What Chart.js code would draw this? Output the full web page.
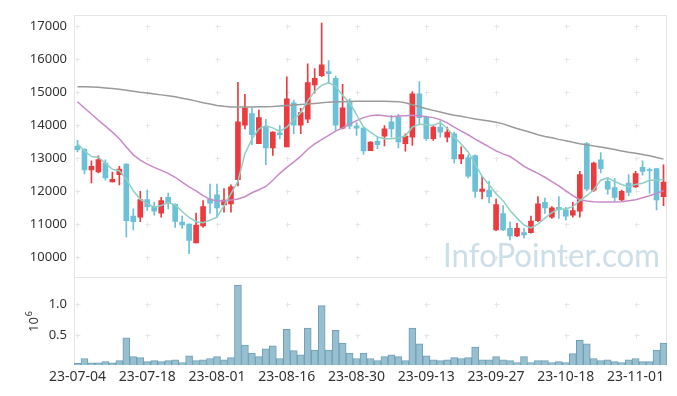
<!DOCTYPE html>
<html>
<head>
<meta charset="utf-8">
<script src="https://cdn.jsdelivr.net/npm/chart.js@4"></script>
<style>
  html, body { margin: 0; padding: 0; background: #fff; }
  #wrap { position: relative; width: 677px; height: 396px; }
</style>
</head>
<body>
<div id="wrap"><canvas id="chart" width="677" height="396"></canvas></div>
<script>
// trading days (23-07-04 .. 23-11-07)
const dates = [
  "23-07-04","23-07-05","23-07-06","23-07-07","23-07-10","23-07-11","23-07-12","23-07-13","23-07-14","23-07-17",
  "23-07-18","23-07-19","23-07-20","23-07-21","23-07-24","23-07-25","23-07-26","23-07-27","23-07-28","23-07-31",
  "23-08-01","23-08-02","23-08-03","23-08-04","23-08-07","23-08-08","23-08-09","23-08-10","23-08-11","23-08-14",
  "23-08-16","23-08-17","23-08-18","23-08-21","23-08-22","23-08-23","23-08-24","23-08-25","23-08-28","23-08-29",
  "23-08-30","23-08-31","23-09-01","23-09-04","23-09-05","23-09-06","23-09-07","23-09-08","23-09-11","23-09-12",
  "23-09-13","23-09-14","23-09-15","23-09-18","23-09-19","23-09-20","23-09-21","23-09-22","23-09-25","23-09-26",
  "23-09-27","23-10-04","23-10-05","23-10-06","23-10-10","23-10-11","23-10-12","23-10-13","23-10-16","23-10-17",
  "23-10-18","23-10-19","23-10-20","23-10-23","23-10-24","23-10-25","23-10-26","23-10-27","23-10-30","23-10-31",
  "23-11-01","23-11-02","23-11-03","23-11-06","23-11-07"
];

const open = [
  13370,13270,12640,12580,12850,12280,12500,12820,11240,11210,
  11740,11530,11330,11810,11600,11060,11000,10430,10940,11760,
  11890,11580,11610,12350,14000,14350,13440,13940,13310,13770,
  13340,14680,14000,14180,15220,15500,15630,15420,13910,14730,
  13970,13910,13230,13510,13670,14100,14250,13440,13640,14950,
  14250,13590,13940,13640,13740,12980,13020,13080,11990,12030,
  10820,11320,10870,10640,10740,10740,11100,11660,11210,11510,
  11430,11270,11390,13440,12030,12950,12300,12110,11730,12240,
  12130,12720,12650,12680,11830
];
const high = [
  13540,13290,12920,13070,12950,12580,12750,12830,11460,11990,
  12030,11660,11810,11940,11610,11240,11010,11330,11710,12210,
  12210,12080,12190,15300,14940,14530,14460,14180,13800,13990,
  15470,14760,14510,15860,15720,17100,15960,15490,15240,14800,
  14080,13940,13500,13640,13990,14300,14330,13740,15020,15320,
  14280,14000,14130,13940,13790,13340,13100,13100,12450,12300,
  11760,11560,11070,11020,10870,11240,11830,11790,11530,11830,
  11510,11660,12600,13470,12880,13170,12420,12380,12030,12500,
  12600,12920,12700,12680,12800
];
const low = [
  13190,12520,12250,12550,12330,12280,12190,10610,10820,11070,
  11410,11270,11210,11460,10900,10870,10100,10430,10900,11320,
  11210,11360,11360,12160,13890,13410,13440,12800,13080,13590,
  13340,13740,13740,14080,14970,15470,15270,13840,13890,13890,
  13690,13110,13230,13290,13370,13640,13310,13210,13390,14030,
  13540,13540,13640,13490,12850,12830,12400,11810,11760,11640,
  10800,10800,10520,10620,10570,10720,11070,11320,11170,11170,
  11120,11210,11210,12010,11990,12550,11910,11710,11710,11860,
  12110,12480,11930,11430,11560
];
const close = [
  13260,12640,12750,12960,12400,12360,12670,11100,11070,11740,
  11530,11390,11710,11630,11080,10970,10500,10970,11530,11630,
  11490,11730,12130,14100,14530,13710,14230,13310,13790,13710,
  14800,14000,14380,15290,15420,15830,15560,14000,14530,13970,
  13910,13220,13490,13410,13890,13890,13490,13670,14950,14230,
  13590,13940,13790,13790,12980,13110,12450,11990,12060,11830,
  11590,10820,10640,10870,10670,11090,11610,11490,11490,11440,
  11240,11410,12500,12060,12850,12680,12060,11810,11990,11960,
  12530,12600,12620,11730,12270
];

// moving averages
const ma5 = [
  13440,13220,13050,13020,12850,12660,12620,12360,12010,11750,
  11620,11510,11560,11650,11580,11380,11200,11070,11040,11120,
  11210,11560,11920,12300,13130,13580,13890,13990,13920,13810,
  13940,14170,14380,14740,15030,15210,15290,15180,14910,14680,
  14320,13940,13790,13640,13590,13590,13620,13670,13940,14030,
  14010,13990,14080,13910,13640,13430,13190,12810,12450,12190,
  11920,11710,11410,11180,10970,10880,11000,11180,11350,11460,
  11460,11530,11710,11860,12040,12330,12400,12290,12200,12130,
  12200,12240,12330,12330,12360
];
const ma20 = [
  14710,14520,14340,14150,13970,13790,13590,13340,13100,12940,
  12820,12720,12630,12540,12420,12270,12130,12010,11860,11750,
  11700,11700,11730,11760,11830,11950,12040,12140,12330,12540,
  12720,12880,13060,13270,13430,13560,13690,13820,13920,14030,
  14140,14230,14290,14310,14290,14260,14280,14290,14300,14290,
  14260,14230,14170,14070,13940,13820,13710,13580,13460,13340,
  13220,13130,13050,12910,12750,12640,12540,12420,12290,12160,
  12010,11860,11740,11700,11680,11670,11670,11670,11680,11710,
  11740,11800,11860,11930,12010
];
const ma60 = [
  15170,15165,15160,15150,15130,15110,15090,15060,15030,15000,
  14975,14950,14920,14890,14860,14820,14780,14730,14680,14640,
  14600,14575,14555,14550,14550,14555,14558,14562,14567,14580,
  14597,14610,14625,14640,14660,14680,14700,14710,14715,14720,
  14725,14727,14727,14727,14725,14720,14715,14680,14620,14560,
  14500,14450,14400,14350,14300,14270,14230,14190,14160,14130,
  14090,14040,13970,13900,13840,13780,13710,13660,13620,13570,
  13530,13480,13440,13410,13370,13340,13300,13260,13220,13180,
  13150,13110,13070,13020,12970
];

const volume = [
  30000,110000,40000,40000,60000,40000,75000,450000,140000,125000,
  60000,75000,60000,75000,90000,45000,155000,75000,90000,110000,
  140000,90000,125000,1320000,330000,200000,140000,270000,320000,110000,
  590000,240000,170000,610000,250000,980000,250000,575000,365000,200000,
  110000,200000,110000,75000,140000,170000,140000,75000,610000,350000,
  155000,90000,75000,90000,125000,110000,125000,300000,90000,90000,
  140000,90000,75000,45000,140000,45000,75000,75000,45000,60000,
  45000,190000,410000,350000,110000,75000,90000,60000,45000,90000,
  110000,60000,60000,250000,365000
];

const priceTicks = [10000, 11000, 12000, 13000, 14000, 15000, 16000, 17000];
const volumeTicks = [500000, 1000000];

const UP = "#ec3b3f";
const DOWN = "#6cc0d7";
const candleColor = (ctx) => close[ctx.dataIndex] >= open[ctx.dataIndex] ? UP : DOWN;

const panels = {
  id: "panels",
  beforeDatasetsDraw(chart) {
    const { ctx, scales } = chart;
    const x = scales.x, y = scales.y, yv = scales.yVol;
    ctx.save();

    // watermark
    ctx.font = "33px Lato";
    ctx.fillStyle = "rgba(170,200,216,0.6)";
    ctx.textBaseline = "alphabetic";
    const text = "InfoPointer.com";
    const w = ctx.measureText(text).width;
    ctx.translate(443, 267);
    ctx.scale(217 / w, 1);
    ctx.fillText(text, 0, 0);
    ctx.setTransform(1, 0, 0, 1, 0, 0);

    // frames
    ctx.strokeStyle = "#e4e4e4";
    ctx.lineWidth = 1;
    ctx.strokeRect(Math.round(x.left) + 0.5, Math.round(y.top) + 0.5,
      Math.round(x.width) - 1, Math.round(y.height));
    ctx.strokeRect(Math.round(x.left) + 0.5, Math.round(yv.top) + 0.5,
      Math.round(x.width) - 1, Math.round(yv.height) - 1);

    // small crosses at grid intersections
    ctx.strokeStyle = "#e6e6e6";
    const xs = dates.map((d, i) => i).filter((i) => i % 10 === 0).map((i) => x.getPixelForValue(i));
    const ys = priceTicks.map((v) => y.getPixelForValue(v))
      .concat(volumeTicks.map((v) => yv.getPixelForValue(v)));
    ctx.beginPath();
    xs.forEach((px) => {
      ys.forEach((py) => {
        const a = Math.round(px) + 0.5, b = Math.round(py) + 0.5;
        ctx.moveTo(a - 2, b); ctx.lineTo(a + 3, b);
        ctx.moveTo(a, b - 2); ctx.lineTo(a, b + 3);
      });
    });
    ctx.stroke();
    ctx.restore();
  },
  afterDraw(chart) {
    const { ctx } = chart;
    ctx.save();
    ctx.fillStyle = "#333";
    ctx.translate(38, 332);
    ctx.rotate(-Math.PI / 2);
    ctx.font = "13px 'Noto Sans'";
    ctx.textBaseline = "alphabetic";
    ctx.fillText("10", 0, 0);
    const w = ctx.measureText("10").width;
    ctx.font = "9px 'Noto Sans'";
    ctx.fillText("6", w + 1, -6);
    ctx.restore();
  }
};

new Chart(document.getElementById("chart"), {
  data: {
    labels: dates,
    datasets: [
      { type: "line", label: "MA5", data: ma5, borderColor: "#8fd0c6", borderWidth: 1.5,
        pointRadius: 0, yAxisID: "y", order: 0 },
      { type: "line", label: "MA20", data: ma20, borderColor: "#c88ac6", borderWidth: 1.5,
        pointRadius: 0, yAxisID: "y", order: 0 },
      { type: "line", label: "MA60", data: ma60, borderColor: "#9a9a9a", borderWidth: 1.5,
        pointRadius: 0, yAxisID: "y", order: 0 },
      { type: "bar", label: "body", data: open.map((o, i) => [o, close[i]]),
        backgroundColor: candleColor, barThickness: 5, grouped: false, yAxisID: "y", order: 1 },
      { type: "bar", label: "wick", data: low.map((l, i) => [l, high[i]]),
        backgroundColor: candleColor, barThickness: 1, grouped: false, yAxisID: "y", order: 2 },
      { type: "bar", label: "volume", data: volume, backgroundColor: "#98bfcf",
        borderColor: "#6d9fb6", borderWidth: 1, barPercentage: 1, categoryPercentage: 1,
        grouped: false, yAxisID: "yVol", order: 1 }
    ]
  },
  options: {
    responsive: false,
    animation: false,
    layout: { padding: { top: 10, right: 10, bottom: 8, left: 0 } },
    plugins: { legend: { display: false }, tooltip: { enabled: false } },
    scales: {
      x: {
        type: "category",
        offset: true,
        grid: { display: false, drawTicks: false },
        border: { display: false },
        ticks: {
          autoSkip: false, maxRotation: 0, padding: 3,
          color: "#333", font: { family: "'Noto Sans'", size: 14 },
          callback: (v, i) => (i % 10 === 0 ? dates[i] : "")
        }
      },
      y: {
        position: "left", stack: "panels", stackWeight: 268, weight: 1,
        min: 9390, max: 17350,
        grid: { display: false, drawTicks: false },
        border: { display: false },
        afterBuildTicks: (s) => { s.ticks = priceTicks.map((v) => ({ value: v })); },
        afterFit: (s) => { s.width = 74; },
        ticks: {
          padding: 7, color: "#333", font: { family: "'Noto Sans'", size: 13 },
          callback: (v) => String(v)
        }
      },
      yVol: {
        position: "left", stack: "panels", stackWeight: 90, weight: 0,
        min: 0, max: 1450000,
        grid: { display: false, drawTicks: false },
        border: { display: false },
        afterBuildTicks: (s) => { s.ticks = volumeTicks.map((v) => ({ value: v })); },
        afterFit: (s) => { s.width = 74; },
        ticks: {
          padding: 7, color: "#333", font: { family: "'Noto Sans'", size: 13 },
          callback: (v) => (v / 1e6).toFixed(1)
        }
      }
    }
  },
  plugins: [panels]
});
</script>
</body>
</html>
